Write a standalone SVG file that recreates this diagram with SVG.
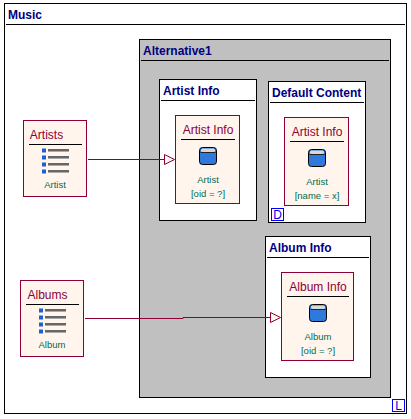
<svg xmlns="http://www.w3.org/2000/svg" width="411" height="419" viewBox="0 0 411 419">
<style>
.box{fill:#fff;stroke:#000;stroke-width:1}
.rule{stroke:#000;stroke-width:1;fill:none}
.card{fill:#fff5ec;stroke:#8c0037;stroke-width:1}
.t{font-family:"Liberation Sans",Arial,sans-serif;font-weight:700;font-size:12px;fill:#000080}
.h{font-family:"Liberation Sans",Arial,sans-serif;font-size:12px;fill:#8c0037;text-anchor:middle}
.s{font-family:"Liberation Sans",Arial,sans-serif;font-size:9.500px;fill:#006c50;text-anchor:middle}
.b{font-family:"Liberation Sans",Arial,sans-serif;font-size:12px;fill:#0000e0;text-anchor:middle}
.badge{fill:#fff;stroke:#0000ff;stroke-width:1}
.c{stroke:#8c0037;stroke-width:1;fill:none}
.ah{stroke:#8c0037;stroke-width:1;fill:#fff5ec}
</style>
<defs>
<g id="db">
<rect x="-8.500" y="-8.500" width="17" height="17" rx="3" fill="#2f78dc" stroke="#000"/>
<rect x="-7" y="-7.500" width="14" height="3.500" rx="1.500" fill="#d8d8d8"/>
<line x1="-7.500" y1="-3.500" x2="7.500" y2="-3.500" stroke="#222"/>
</g>
<g id="list">
<g id="li"><rect x="-13" y="-1.500" width="4" height="4" fill="#1a62d0"/><rect x="-7" y="-1" width="21" height="2" fill="#666"/><rect x="-7" y="1" width="21" height="1" fill="#aaa"/></g>
<use href="#li" y="7"/><use href="#li" y="14"/><use href="#li" y="21"/>
</g>
</defs>
<rect width="411" height="419" fill="#fff"/>
<g id="music"><rect class="box" x="4.500" y="3.500" width="402" height="410"/><line class="rule" x1="6" y1="24.500" x2="405" y2="24.500"/><text class="t" x="8" y="19">Music</text></g>
<g id="alternative1"><rect x="139.500" y="39.500" width="251" height="358" fill="#c0c0c0" stroke="#000"/><line class="rule" x1="141" y1="60.500" x2="389" y2="60.500"/><text class="t" x="143" y="55">Alternative1</text></g>
<g id="artist-info-container"><rect class="box" x="159.500" y="79.500" width="97" height="141"/><line class="rule" x1="161" y1="100.500" x2="255" y2="100.500"/><text class="t" x="163" y="95">Artist Info</text></g>
<g id="default-content"><rect class="box" x="268.500" y="81.500" width="97" height="141"/><line class="rule" x1="270" y1="102.500" x2="364" y2="102.500"/><text class="t" x="272" y="97">Default Content</text></g>
<g id="album-info-container"><rect class="box" x="265.500" y="236.500" width="105" height="141"/><line class="rule" x1="267" y1="257.500" x2="369" y2="257.500"/><text class="t" x="269" y="252">Album Info</text></g>
<g id="artists"><rect class="card" x="23.500" y="120.500" width="63" height="76"/><line class="rule" x1="29" y1="144.500" x2="82" y2="144.500"/><text class="h" x="46.500" y="139">Artists</text><use href="#list" x="55" y="150"/><text class="s" x="55" y="188">Artist</text></g>
<g id="albums"><rect class="card" x="20.500" y="280.500" width="63" height="76"/><line class="rule" x1="26" y1="304.500" x2="79" y2="304.500"/><text class="h" x="47.500" y="299">Albums</text><use href="#list" x="52" y="310"/><text class="s" x="52" y="348">Album</text></g>
<g id="artist-info"><rect class="card" x="175.500" y="115.500" width="64" height="88"/><line class="rule" x1="181" y1="139.500" x2="235" y2="139.500"/><text class="h" x="208" y="134">Artist Info</text><use href="#db" x="208" y="156"/><text class="s" x="208" y="183">Artist</text><text class="s" x="208" y="197">[oid = ?]</text></g>
<g id="artist-info-default"><rect class="card" x="284.500" y="117.500" width="64" height="88"/><line class="rule" x1="290" y1="141.500" x2="344" y2="141.500"/><text class="h" x="317" y="136">Artist Info</text><use href="#db" x="317" y="158"/><text class="s" x="317" y="185">Artist</text><text class="s" x="317" y="199">[name = x]</text></g>
<g id="album-info"><rect class="card" x="281.500" y="272.500" width="72" height="88"/><line class="rule" x1="287" y1="296.500" x2="349" y2="296.500"/><text class="h" x="318" y="291">Album Info</text><use href="#db" x="318" y="313"/><text class="s" x="318" y="340">Album</text><text class="s" x="318" y="354">[oid = ?]</text></g>
<g id="connectors">
<path class="c" d="M88 159.500H165"/><path class="ah" d="M164.500 154.500L174.500 159.500L164.500 164.500Z"/>
<path class="c" d="M85 318.500H183V317.500H271"/><path class="ah" d="M270.500 312.500L280.500 317.500L270.500 322.500Z"/>
</g>
<g id="badge-d"><rect class="badge" x="271.500" y="208.500" width="12" height="12"/><text class="b" x="277.500" y="219">D</text></g>
<g id="badge-l"><rect class="badge" x="392.500" y="399.500" width="12" height="12"/><text class="b" x="398.500" y="410">L</text></g>
</svg>
